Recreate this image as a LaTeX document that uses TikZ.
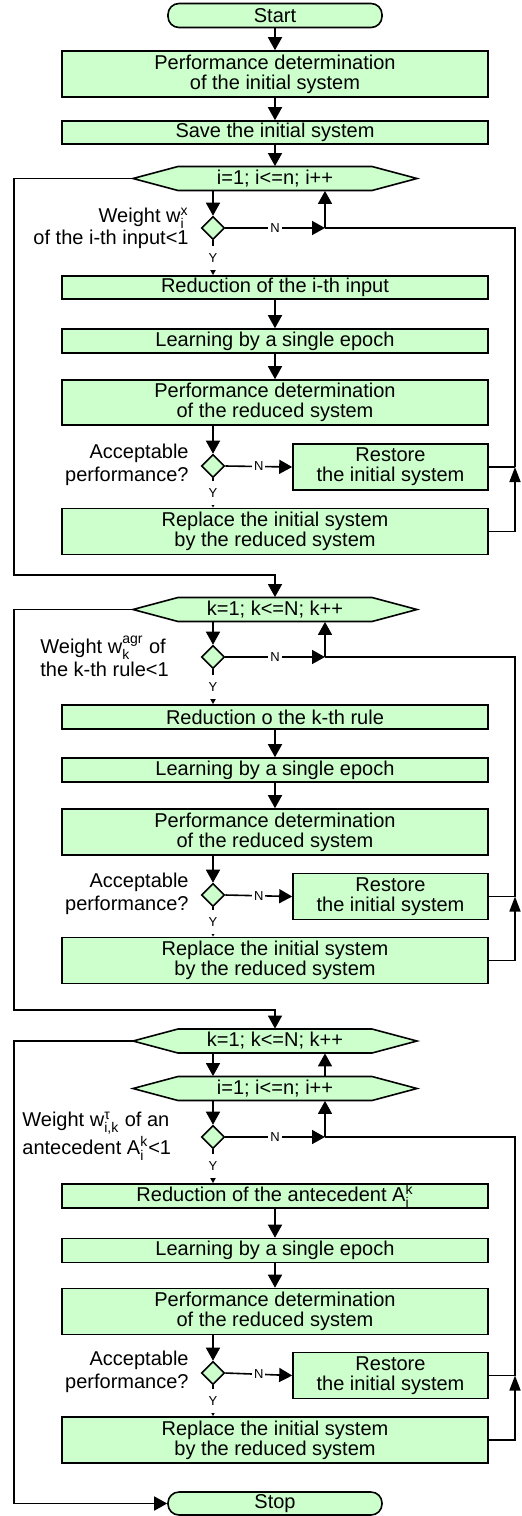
\documentclass[tikz,border=0pt]{standalone}
\usepackage{fontspec}
\setmainfont{Liberation Sans}
\usepackage{amsmath}
\usetikzlibrary{shapes.geometric,arrows.meta,calc}
\definecolor{boxgreen}{RGB}{204,255,204}
% index pair: subscript below, superscript above
\newcommand\subsup[2]{$_{\text{#1}}^{\text{#2}}$}
% loop header: hexagon outline plus a named label node on top of it
\newcommand\hexnode[4]{%
  \filldraw[hexline] ({#2-142},#3) -- ({#2-97},{#3-12}) -- ({#2+97},{#3-12})
    -- ({#2+142},#3) -- ({#2+97},{#3+12}) -- ({#2-97},{#3+12}) -- cycle;
  \node[hexlabel] (#1) at (#2,#3) {#4};}
\begin{document}
\begin{tikzpicture}[x=0.5pt,y=-0.5pt,
  every node/.style={font=\fontsize{10}{10}\selectfont},
  box/.style={draw,fill=boxgreen,line width=0.8pt,minimum width=213pt,inner sep=0pt,align=center},
  onebox/.style={box,minimum height=12pt},
  twobox/.style={box,minimum height=23pt},
  restorebox/.style={twobox,minimum width=97.5pt},
  term/.style={box,rounded corners=5.5pt,minimum width=107pt,minimum height=12pt},
  hexline/.style={draw,fill=boxgreen,line width=0.8pt},
  hexlabel/.style={minimum width=142pt,minimum height=12pt,inner sep=0pt},
  test/.style={diamond,draw,fill=boxgreen,line width=0.8pt,minimum width=11.5pt,minimum height=11.5pt,inner sep=0pt},
  line/.style={line width=0.8pt},
  arr/.style={line,-{Triangle[width=7pt,length=6.5pt]}},
  back/.style={line,-{Triangle[width=5.5pt,length=7.5pt]}},
  yes/.style={line,-{Triangle[width=3pt,length=3pt]}},
  tag/.style={font=\fontsize{6.5}{6.5}\selectfont,fill=white,inner sep=1pt},
  ytag/.style={tag,minimum height=12pt},
  condR/.style={anchor=east,align=right,inner sep=0pt},
  condL/.style={anchor=west,align=left,inner sep=0pt}
]
\useasboundingbox (0,0) rectangle (521,1516);

% ---------- start and input loop ----------
\node[term] (start) at (275,15.5) {Start};
\node[twobox] (pdi) at (275,74) {Performance determination\\of the initial system};
\node[onebox,minimum height=11.5pt] (save) at (275,132.5) {Save the initial system};
\hexnode{h1}{275}{178.5}{i=1; i<=n; i++}
\node[test] (d1) at (213,228) {};
\node[condR,font=\fontsize{10}{11}\selectfont] (q1) at (189,228) {Weight w\subsup{i}{x}\\of the i-th input<1};
\node[onebox,minimum height=11.5pt] (r1) at (275,287.5) {Reduction of the i-th input};
\node[onebox] (l1) at (275,341) {Learning by a single epoch};
\node[twobox,minimum height=22.5pt] (p1) at (275,402.5) {Performance determination\\of the reduced system};
\node[test] (a1) at (213,466) {};
\node[condR,font=\fontsize{10}{11.5}\selectfont] (e1) at (189,465) {Acceptable\\performance?};
\node[restorebox] (s1) at (390.5,467) {Restore\\the initial system};
\node[twobox] (rp1) at (275,531.5) {Replace the initial system\\by the reduced system};
\coordinate (c1) at (325,228);
\coordinate (j1) at (515,467);
\coordinate (L1) at (14,575);

\draw[arr] (start) -- (pdi);
\draw[arr] (pdi) -- (save);
\draw[arr] (save) -- (h1);
\draw[arr] (h1.south -| d1) -- (d1.north);
\draw[yes] (d1.south) -- node[ytag]{Y} (r1.north -| d1.south);
\draw[arr] (d1.east) -- node[tag]{N} (c1);
\draw[arr] (c1) -- (c1 |- h1.south);
\draw[arr] (r1) -- (l1);
\draw[arr] (l1) -- (p1);
\draw[arr] (p1.south -| a1) -- (a1.north);
\draw[arr] (a1.east) -- node[tag]{N} (s1.west);
\draw[yes] (a1.south) -- node[ytag]{Y} (rp1.north -| a1.south);
\draw[back] (rp1.east) -| (j1);
\draw[line] (s1.east) -- (j1);
\draw[line] (j1) |- (c1);

% ---------- rule loop ----------
\hexnode{h2}{275}{609.5}{k=1; k<=N; k++}
\draw[arr] (h1.west) -| (L1) -| (h2.north);
\node[test] (d2) at (213,657) {};
\node[condL,font=\fontsize{10}{10}\selectfont] (q2) at (40,656) {Weight w\subsup{k}{agr} of\\the k-th rule<1};
\node[onebox] (r2) at (275,717) {Reduction o the k-th rule};
\node[onebox] (l2) at (275,770) {Learning by a single epoch};
\node[twobox] (p2) at (275,832) {Performance determination\\of the reduced system};
\node[test] (a2) at (213,895) {};
\node[condR,font=\fontsize{10}{11.5}\selectfont] (e2) at (189,894) {Acceptable\\performance?};
\node[restorebox] (s2) at (390.5,896.5) {Restore\\the initial system};
\node[twobox] (rp2) at (275,960.5) {Replace the initial system\\by the reduced system};
\coordinate (c2) at (325,657);
\coordinate (j2) at (515,896.5);
\coordinate (L2) at (14,1010);

\draw[arr] (h2.south -| d2) -- (d2.north);
\draw[yes] (d2.south) -- node[ytag]{Y} (r2.north -| d2.south);
\draw[arr] (d2.east) -- node[tag]{N} (c2);
\draw[arr] (c2) -- (c2 |- h2.south);
\draw[arr] (r2) -- (l2);
\draw[arr] (l2) -- (p2);
\draw[arr] (p2.south -| a2) -- (a2.north);
\draw[arr] (a2.east) -- node[tag]{N} (s2.west);
\draw[yes] (a2.south) -- node[ytag]{Y} (rp2.north -| a2.south);
\draw[back] (rp2.east) -| (j2);
\draw[line] (s2.east) -- (j2);
\draw[line] (j2) |- (c2);

% ---------- antecedent loops ----------
\hexnode{h3}{275}{1041}{k=1; k<=N; k++}
\hexnode{h4}{275}{1088.5}{i=1; i<=n; i++}
\draw[arr] (h2.west) -| (L2) -| (h3.north);
\node[test] (d3) at (213,1137) {};
\node[condL,font=\fontsize{10}{9.5}\selectfont] (q3) at (22,1136) {Weight w\subsup{i,k}{τ} of an\\antecedent A\subsup{i}{k}<1};
\node[onebox] (r3) at (275,1196) {Reduction of the antecedent A\subsup{i}{k}};
\node[onebox] (l3) at (275,1250.5) {Learning by a single epoch};
\node[twobox] (p3) at (275,1311.5) {Performance determination\\of the reduced system};
\node[test] (a3) at (213,1373) {};
\node[condR,font=\fontsize{10}{11.5}\selectfont] (e3) at (189,1372) {Acceptable\\performance?};
\node[restorebox] (s3) at (390.5,1375.5) {Restore\\the initial system};
\node[twobox] (rp3) at (275,1440) {Replace the initial system\\by the reduced system};
\node[term,minimum height=11.5pt] (stop) at (275,1503.5) {Stop};
\coordinate (c3) at (325,1137);
\coordinate (j3) at (515,1375.5);
\coordinate (L3) at (14,1503.5);

\draw[arr] (h3.south -| d3) -- (h4.north -| d3);
\draw[arr] (h4.north -| c3) -- (h3.south -| c3);
\draw[arr] (h4.south -| d3) -- (d3.north);
\draw[yes] (d3.south) -- node[ytag]{Y} (r3.north -| d3.south);
\draw[arr] (d3.east) -- node[tag]{N} (c3);
\draw[arr] (c3) -- (c3 |- h4.south);
\draw[arr] (r3) -- (l3);
\draw[arr] (l3) -- (p3);
\draw[arr] (p3.south -| a3) -- (a3.north);
\draw[arr] (a3.east) -- node[tag]{N} (s3.west);
\draw[yes] (a3.south) -- node[ytag]{Y} (rp3.north -| a3.south);
\draw[back] (rp3.east) -| (j3);
\draw[line] (s3.east) -- (j3);
\draw[line] (j3) |- (c3);
\draw[arr] (h3.west) -| (L3) -- (stop.west);
\end{tikzpicture}
\end{document}
